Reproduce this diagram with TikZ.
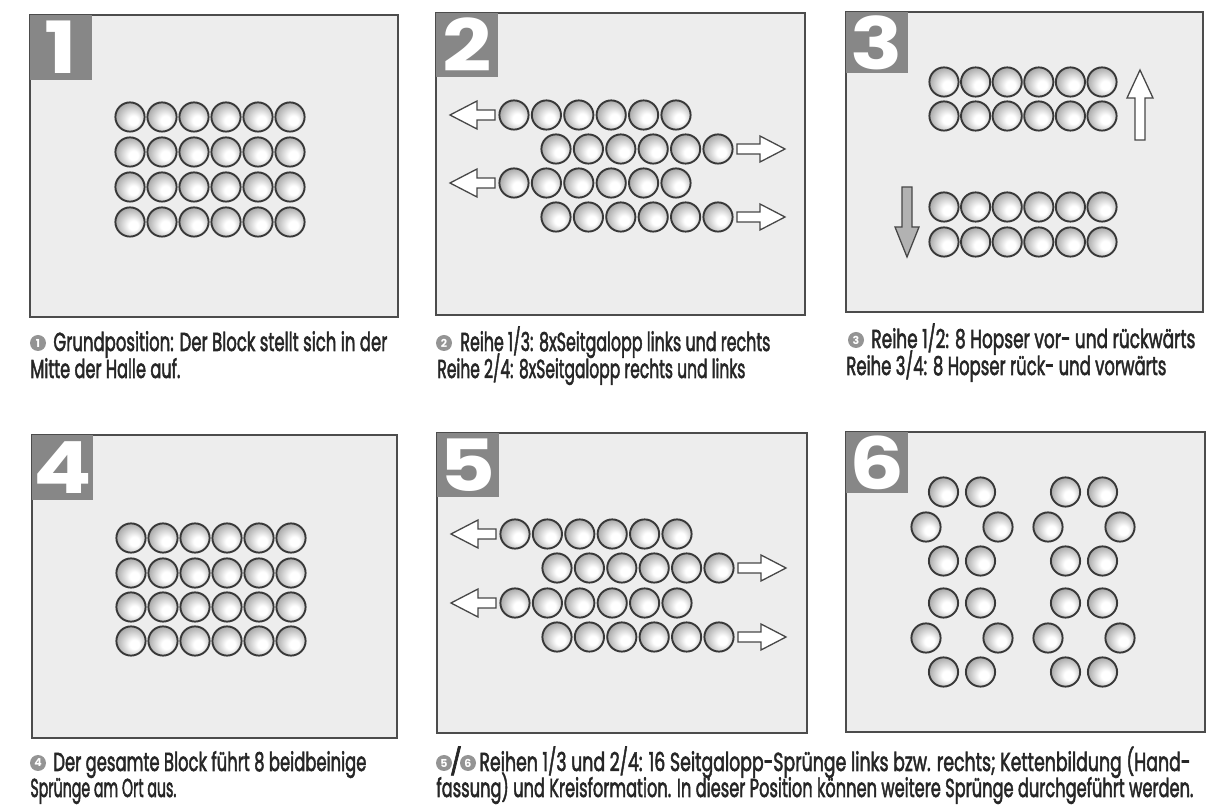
\documentclass[tikz,border=0pt]{standalone}
\usepackage{fontspec}
\usepackage{graphicx}
\setmainfont{Poppins}
\newfontfamily\capff{Poppins}[FakeBold=2.5]
\usetikzlibrary{fit}
\pgfdeclareradialshading{ballshade}{\pgfpoint{7bp}{-7bp}}{color(0bp)=(white); color(8bp)=(white); color(30bp)=(black!36); color(50bp)=(black!55)}
\newcommand\capfont{\capff\fontsize{13}{14}\selectfont}
\newcommand\capline[5]{\node[capnode] (#1) at (#2,#3) {\resizebox{#4pt}{\height}{#5}};}
\tikzset{
  panel/.style={draw=black!70, line width=0.9pt, fill=black!7, inner sep=0pt},
  badge/.style={fill=black!47, inner sep=0pt},
  badgenum/.style={text=white, inner sep=0pt, font=\fontsize{36}{36}\bfseries\selectfont},
  ball/.style={circle, minimum size=14.6pt, inner sep=0pt, draw=black!78, line width=0.95pt, shade, shading=ballshade},
  blockarrow/.style={draw=black!72, line width=0.65pt, fill=white, line join=miter},
  capnode/.style={anchor=base west, inner sep=0pt, font=\capfont, text=black!85},
  bul/.style={circle, fill=black!42, text=white, minimum size=8pt, inner sep=0pt, font=\fontsize{5.5}{6}\bfseries\selectfont}
}
\begin{document}
\begin{tikzpicture}[x=0.5pt, y=-0.5pt]
\fill[white] (0,0) rectangle (1207,807);
\useasboundingbox (0,0) rectangle (1207,807);

% ---------- panels ----------
\node[panel, fit={(30,15) (398,317)}] (P1) {};
\node[panel, fit={(436,13) (805,315)}] (P2) {};
\node[panel, fit={(846,12) (1203,312)}] (P3) {};
\node[panel, fit={(32,435) (397,738)}] (P4) {};
\node[panel, fit={(437,433) (807,733)}] (P5) {};
\node[panel, fit={(846,432) (1205,732)}] (P6) {};

% ---------- badges ----------
\node[badge, fit={(30,15) (92,80)}] (B1) {};
\node[badgenum] (N1) at (B1.center) {\scalebox{1.2}[1]{1}};
\node[badge, fit={(436,13) (498,77)}] (B2) {};
\node[badgenum] (N2) at (B2.center) {\scalebox{1.2}[1]{2}};
\node[badge, fit={(846,12) (908,73)}] (B3) {};
\node[badgenum] (N3) at (B3.center) {\scalebox{1.2}[1]{3}};
\node[badge, fit={(32,435) (93,500)}] (B4) {};
\node[badgenum] (N4) at (B4.center) {\scalebox{1.2}[1]{4}};
\node[badge, fit={(437,433) (499,497)}] (B5) {};
\node[badgenum] (N5) at (B5.center) {\scalebox{1.2}[1]{5}};
\node[badge, fit={(846,432) (908,493)}] (B6) {};
\node[badgenum] (N6) at (B6.center) {\scalebox{1.2}[1]{6}};

% ---------- panel 1: block ----------
\foreach \r/\y in {1/117,2/152,3/187,4/222}
  \foreach \c in {0,...,5}
    \node[ball] (a\r-\c) at ({130+32*\c},\y) {};

% ---------- panel 2: side gallop ----------
\foreach \r/\x/\y in {1/514/115,2/556/149,3/514/183,4/556/217}
  \foreach \c in {0,...,5}
    \node[ball] (b\r-\c) at ({\x+32.4*\c},\y) {};
\foreach \y in {115,183}
  \draw[blockarrow] (450,\y) -- ++(27,-14) -- ++(0,9) -- ++(18,0) -- ++(0,10) -- ++(-18,0) -- ++(0,9) -- cycle;
\foreach \y in {149,217}
  \draw[blockarrow] (737,\y-5) -- ++(23,0) -- ++(0,-8) -- ++(25,13) -- ++(-25,13) -- ++(0,-8) -- ++(-23,0) -- cycle;

% ---------- panel 3: hops ----------
\foreach \r/\y in {1/82,2/116,3/207,4/242}
  \foreach \c in {0,...,5}
    \node[ball] (c\r-\c) at ({944+31.6*\c},\y) {};
\draw[blockarrow] (1140,70) -- ++(13,28) -- ++(-8,0) -- ++(0,42) -- ++(-10,0) -- ++(0,-42) -- ++(-8,0) -- cycle;
\draw[blockarrow, fill=black!30] (907,257) -- ++(12,-30) -- ++(-7,0) -- ++(0,-40) -- ++(-10,0) -- ++(0,40) -- ++(-7,0) -- cycle;

% ---------- panel 4: block ----------
\foreach \r/\y in {1/538,2/573,3/607,4/641}
  \foreach \c in {0,...,5}
    \node[ball] (d\r-\c) at ({131+32*\c},\y) {};

% ---------- panel 5: side gallop ----------
\foreach \r/\x/\y in {1/515/534,2/557/568,3/515/603,4/557/637}
  \foreach \c in {0,...,5}
    \node[ball] (e\r-\c) at ({\x+32.4*\c},\y) {};
\foreach \y in {534,603}
  \draw[blockarrow] (451,\y) -- ++(27,-14) -- ++(0,9) -- ++(18,0) -- ++(0,10) -- ++(-18,0) -- ++(0,9) -- cycle;
\foreach \y in {568,637}
  \draw[blockarrow] (738,\y-5) -- ++(23,0) -- ++(0,-8) -- ++(25,13) -- ++(-25,13) -- ++(0,-8) -- ++(-23,0) -- cycle;

% ---------- panel 6: circles ----------
\foreach \k/\cx in {1/962,2/1084}
  \foreach \ring/\ya/\yb/\yc in {1/492/527/561,2/603/638/672} {
    \node[ball] (f\k-\ring-1) at (\cx-18.5,\ya) {};
    \node[ball] (f\k-\ring-2) at (\cx+18.5,\ya) {};
    \node[ball] (f\k-\ring-3) at (\cx-36,\yb) {};
    \node[ball] (f\k-\ring-4) at (\cx+36,\yb) {};
    \node[ball] (f\k-\ring-5) at (\cx-18.5,\yc) {};
    \node[ball] (f\k-\ring-6) at (\cx+18.5,\yc) {};
  }

% ---------- captions ----------
\node[bul] (u1) at (38,343) {1};
\capline{t1a}{53}{351}{167}{Grundposition: Der Block stellt sich in der}
\capline{t1b}{30}{378}{75}{Mitte der Halle auf.}

\node[bul] (u2) at (444,343) {2};
\capline{t2a}{460}{351}{155}{Reihe 1/3: 8xSeitgalopp links und rechts}
\capline{t2b}{437}{378}{154}{Reihe 2/4: 8xSeitgalopp rechts und links}

\node[bul] (u3) at (856,340) {3};
\capline{t3a}{871}{348}{162}{Reihe 1/2: 8 Hopser vor- und rückwärts}
\capline{t3b}{846}{375}{160}{Reihe 3/4: 8 Hopser rück- und vorwärts}

\node[bul] (u4) at (38,763) {4};
\capline{t4a}{53}{771}{156.5}{Der gesamte Block führt 8 beidbeinige}
\capline{t4b}{30}{797}{73}{Sprünge am Ort aus.}

\node[bul] (u5) at (444,763) {5};
\node[capnode, anchor=base] (sl) at (456,771) {/};
\node[bul] (u6) at (468,763) {6};
\capline{t5a}{479}{771}{355.5}{Reihen 1/3 und 2/4: 16 Seitgalopp-Sprünge links bzw. rechts; Kettenbildung (Hand-}
\capline{t5b}{436}{797}{378.5}{fassung) und Kreisformation. In dieser Position können weitere Sprünge durchgeführt werden.}
\end{tikzpicture}
\end{document}
